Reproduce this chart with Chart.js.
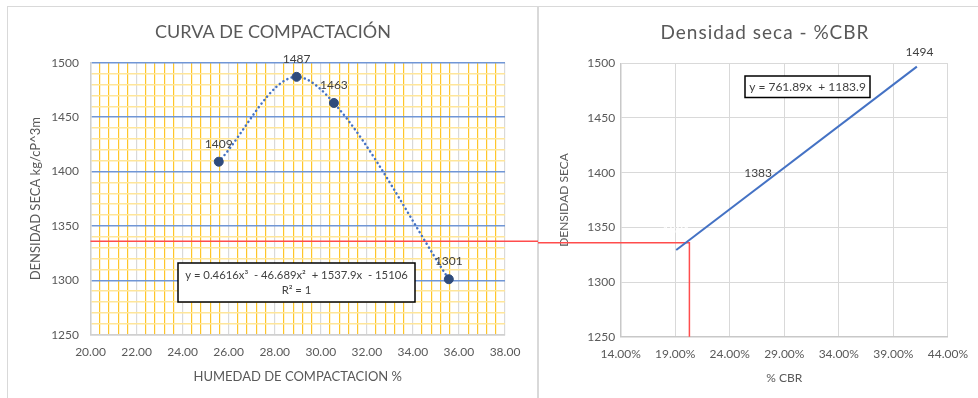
<!DOCTYPE html>
<html>
<head>
<meta charset="utf-8">
<script src="https://cdn.jsdelivr.net/npm/chart.js@4.4.0/dist/chart.umd.min.js"></script>
<style>
  html, body { margin: 0; padding: 0; background: #fff; }
  body { width: 978px; height: 398px; overflow: hidden; position: relative; }
  .panel { position: absolute; top: 6px; height: 410px; box-sizing: border-box;
           border: 1.5px solid #d9d9d9; border-bottom: none; }
  #leftPanel { left: 6.5px; width: 532px; }
  #rightPanel { left: 537px; width: 460px; }
  canvas { position: absolute; top: 7px; }
  #compactacion { left: 8px; }
  #cbrChart { left: 538px; }
</style>
</head>
<body>
<div class="panel" id="leftPanel"></div>
<div class="panel" id="rightPanel"></div>
<canvas id="compactacion" width="530" height="391"></canvas>
<canvas id="cbrChart" width="440" height="391"></canvas>
<script>
// Curva de compactación (puntos del ensayo)
const humedad = [25.57, 28.95, 30.57, 35.56];
const densidad = [1409, 1487, 1463, 1301];
const humedadTicks = [20, 22, 24, 26, 28, 30, 32, 34, 36, 38];
const densidadTicks = [1250, 1300, 1350, 1400, 1450, 1500];

// Densidad seca - %CBR
const cbr = [19.1, 26.6, 41.4];
const densidadCbr = [1331, 1383, 1494];
const cbrLabelColors = ['#ffffff', '#404040', '#404040'];
const trendCbr = [19.09, 41.16];
const trendDensidad = [1329.3, 1497];
const cbrTicks = [14, 19, 24, 29, 34, 39, 44];

// Linea de lectura (roja)
const densidadLectura = 1336;
const cbrLectura = 20.3;

const eqCompactacion = ['y = 0.4616x\u00B3  - 46.689x\u00B2  + 1537.9x  - 15106', 'R\u00B2 = 1'];
const eqCbr = ['y = 761.89x  + 1183.9'];

const TEXT = '#595959';
const LABEL = '#404040';
const RED = '#ff4d4d';
const BLUE = '#4472c4';

Chart.defaults.font.family = "Lato, 'Noto Sans', sans-serif";
Chart.defaults.font.size = 12;
Chart.defaults.color = TEXT;

const toPoints = (xs, ys) => xs.map((x, i) => ({ x: x, y: ys[i] }));
const near = (v, list) => list.some(t => Math.abs(t - v) < 0.01);

// Chart title drawn by hand so letter spacing can match
const panelTitle = {
  id: 'panelTitle',
  afterDraw(chart, args, opts) {
    const ctx = chart.ctx;
    ctx.save();
    ctx.font = opts.font;
    ctx.fillStyle = TEXT;
    ctx.letterSpacing = opts.spacing || '0px';
    ctx.textAlign = 'center';
    ctx.textBaseline = 'middle';
    ctx.fillText(opts.text, opts.x, opts.y);
    ctx.restore();
  }
};

// Value labels above each point
const valueLabels = {
  id: 'valueLabels',
  afterDatasetsDraw(chart) {
    const ctx = chart.ctx;
    chart.data.datasets.forEach((ds, i) => {
      if (!ds.valueLabels) return;
      const meta = chart.getDatasetMeta(i);
      ctx.save();
      ctx.font = "12px Lato";
      ctx.textAlign = 'center';
      ctx.textBaseline = 'middle';
      meta.data.forEach((pt, j) => {
        ctx.fillStyle = ds.labelColors ? ds.labelColors[j] : LABEL;
        ctx.fillText(String(ds.data[j].y), pt.x, pt.y - 18);
      });
      ctx.restore();
    });
  }
};

// Trendline equation box
const equationBox = {
  id: 'equationBox',
  afterDatasetsDraw(chart, args, opts) {
    const ctx = chart.ctx;
    ctx.save();
    ctx.fillStyle = '#fff';
    ctx.fillRect(opts.x, opts.y, opts.w, opts.h);
    ctx.strokeStyle = '#000';
    ctx.lineWidth = 1.5;
    ctx.strokeRect(opts.x, opts.y, opts.w, opts.h);
    ctx.fillStyle = LABEL;
    ctx.font = opts.font || "12px Lato";
    ctx.textAlign = 'center';
    ctx.textBaseline = 'middle';
    const cx = opts.x + opts.w / 2;
    const lh = 15;
    const y0 = opts.y + opts.h / 2 - (opts.lines.length - 1) * lh / 2;
    opts.lines.forEach((t, i) => ctx.fillText(t, cx, y0 + i * lh));
    ctx.restore();
  }
};

// ---- Curva de compactación ----
new Chart(document.getElementById('compactacion'), {
  type: 'scatter',
  data: {
    datasets: [
      {
        data: toPoints(humedad, densidad),
        valueLabels: true,
        pointRadius: 4.5,
        pointBackgroundColor: '#2f4b7c',
        pointBorderColor: '#2f4b7c',
        showLine: false,
        order: 0
      },
      {
        data: toPoints(humedad, densidad),
        showLine: true,
        pointRadius: 0,
        borderColor: BLUE,
        borderWidth: 2.5,
        borderDash: [0.1, 4.4],
        borderCapStyle: 'round',
        cubicInterpolationMode: 'monotone',
        order: 1
      },
      {
        data: [{ x: humedadTicks[0], y: densidadLectura }, { x: 40, y: densidadLectura }],
        showLine: true,
        pointRadius: 0,
        borderColor: RED,
        borderWidth: 1.5,
        clip: false,
        order: 2
      }
    ]
  },
  options: {
    responsive: false,
    animation: false,
    layout: { padding: { top: 55.7, right: 33, left: 0, bottom: 0 } },
    plugins: {
      legend: { display: false },
      tooltip: { enabled: false },
      panelTitle: { text: 'CURVA DE COMPACTACIÓN', x: 265, y: 25.5, font: "18px Lato" },
      equationBox: { x: 170, y: 256, w: 237, h: 39, lines: eqCompactacion, font: "11.3px Lato" }
    },
    scales: {
      x: {
        type: 'linear',
        min: humedadTicks[0],
        max: humedadTicks[humedadTicks.length - 1],
        afterFit: s => { s.height = 63.3; },
        ticks: {
          stepSize: 0.4,
          autoSkip: false,
          maxRotation: 0,
          padding: 10,
          callback: v => near(v, humedadTicks) ? v.toFixed(2) : ''
        },
        grid: {
          drawTicks: false,
          color: c => near(c.tick.value, humedadTicks) ? '#d9d9d9' : '#ffc629',
          lineWidth: 1.2
        },
        border: { color: '#d0d0d0', width: 1.5 },
        title: {
          display: true,
          text: 'HUMEDAD DE COMPACTACION %',
          font: { size: 13 },
          padding: { top: 0, bottom: 13 }
        }
      },
      y: {
        min: densidadTicks[0],
        max: densidadTicks[densidadTicks.length - 1],
        afterFit: s => { s.width = 82.5; },
        ticks: {
          stepSize: 10,
          autoSkip: false,
          padding: 11.5,
          callback: v => near(v, densidadTicks) ? String(v) : ''
        },
        grid: {
          drawTicks: false,
          color: c => {
            if (c.tick.value === densidadTicks[0]) return '#d0d0d0';
            return near(c.tick.value, densidadTicks) ? '#7096d6' : '#ffe699';
          },
          lineWidth: 1.4
        },
        border: { color: '#d0d0d0', width: 1.5 },
        title: {
          display: true,
          text: 'DENSIDAD SECA kg/cP^3m',
          font: { size: 13 },
          padding: { top: 20, bottom: 0 }
        }
      }
    }
  },
  plugins: [panelTitle, equationBox, valueLabels]
});

// ---- Densidad seca - %CBR ----
new Chart(document.getElementById('cbrChart'), {
  type: 'scatter',
  data: {
    datasets: [
      {
        data: toPoints(cbr, densidadCbr),
        valueLabels: true,
        labelColors: cbrLabelColors,
        pointRadius: 0,
        showLine: false,
        order: 0
      },
      {
        data: toPoints(trendCbr, trendDensidad),
        showLine: true,
        pointRadius: 0,
        borderColor: BLUE,
        borderWidth: 2,
        order: 1
      },
      {
        data: [
          { x: 5, y: densidadLectura },
          { x: cbrLectura, y: densidadLectura },
          { x: cbrLectura, y: densidadTicks[0] }
        ],
        showLine: true,
        pointRadius: 0,
        borderColor: RED,
        borderWidth: 1.5,
        clip: false,
        order: 2
      }
    ]
  },
  options: {
    responsive: false,
    animation: false,
    layout: { padding: { top: 56.3, right: 26, left: 0, bottom: 0 } },
    plugins: {
      legend: { display: false },
      tooltip: { enabled: false },
      panelTitle: { text: 'Densidad seca - %CBR', x: 227, y: 26, font: "19px Lato", spacing: '1px' },
      equationBox: { x: 207, y: 69, w: 125, h: 21.5, lines: eqCbr }
    },
    scales: {
      x: {
        type: 'linear',
        min: cbrTicks[0],
        max: cbrTicks[cbrTicks.length - 1],
        afterFit: s => { s.height = 61.3; },
        ticks: {
          stepSize: 5,
          maxRotation: 0,
          autoSkip: false,
          padding: 10,
          callback: v => v.toFixed(2) + '%'
        },
        grid: { drawTicks: false, color: '#d9d9d9', lineWidth: 1 },
        border: { color: '#c8c8c8', width: 1.5 },
        title: {
          display: true,
          text: '% CBR',
          font: { size: 12 },
          padding: { top: 0, bottom: 13 }
        }
      },
      y: {
        min: densidadTicks[0],
        max: densidadTicks[densidadTicks.length - 1],
        afterFit: s => { s.width = 82.7; },
        ticks: { stepSize: 50, padding: 5.5, callback: v => String(v) },
        grid: { drawTicks: false, color: '#d9d9d9', lineWidth: 1 },
        border: { color: '#c8c8c8', width: 1.5 },
        title: {
          display: true,
          text: 'DENSIDAD SECA',
          font: { size: 12 },
          padding: { top: 19, bottom: 0 }
        }
      }
    }
  },
  plugins: [panelTitle, equationBox, valueLabels]
});
</script>
</body>
</html>
